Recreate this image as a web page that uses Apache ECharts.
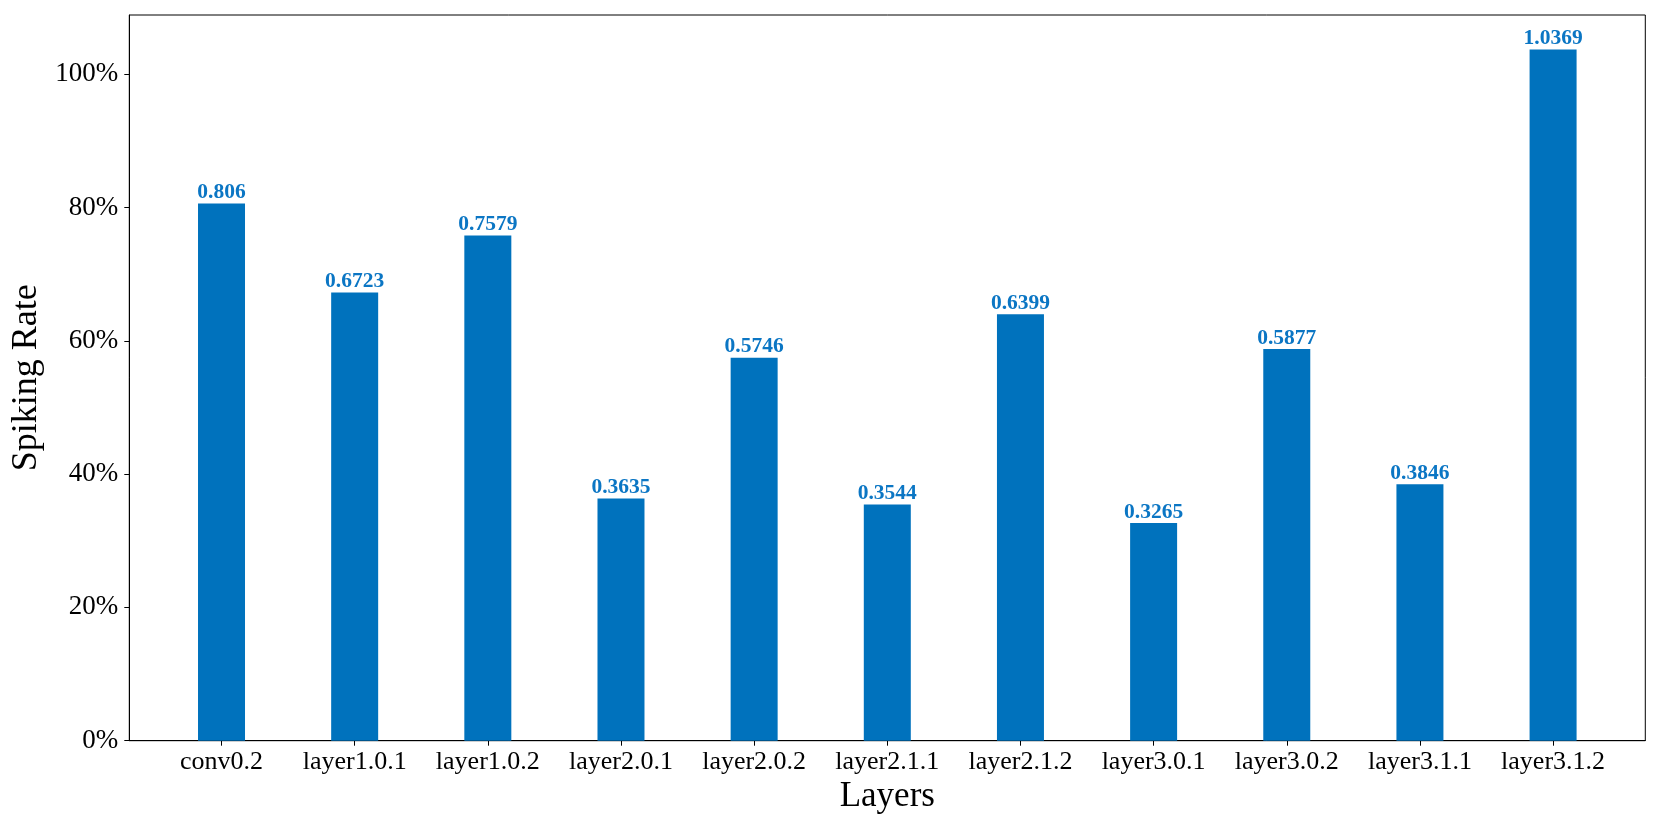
<!DOCTYPE html>
<html>
<head>
<meta charset="utf-8">
<script src="https://cdn.jsdelivr.net/npm/echarts@6/dist/echarts.min.js"></script>
<style>
html,body{margin:0;padding:0;background:#fff;}
#c{width:1661px;height:830px;}
</style>
</head>
<body>
<div id="c"></div>
<script>
var categories = ['conv0.2','layer1.0.1','layer1.0.2','layer2.0.1','layer2.0.2','layer2.1.1','layer2.1.2','layer3.0.1','layer3.0.2','layer3.1.1','layer3.1.2'];
var values = [0.806, 0.6723, 0.7579, 0.3635, 0.5746, 0.3544, 0.6399, 0.3265, 0.5877, 0.3846, 1.0369];
var yTicks = [0, 0.2, 0.4, 0.6, 0.8, 1.0];
var xTicks = categories.map(function(_, i){ return i; });

var FONT = '"Liberation Serif", "Times New Roman", serif';
var chart = echarts.init(document.getElementById('c'), null, {renderer: 'canvas'});
var barData = values.map(function(v, i){ return [i, v]; });

chart.setOption({
  animation: false,
  backgroundColor: '#ffffff',
  grid: {
    left: 129.3, top: 15, right: 15.7, bottom: 89.3,
    show: true, borderColor: '#000', borderWidth: 1, backgroundColor: 'transparent'
  },
  xAxis: {
    type: 'value',
    min: -0.6925, max: 10.6925,
    name: 'Layers', nameLocation: 'middle', nameGap: 33,
    nameTextStyle: {fontFamily: FONT, fontSize: 35, color: '#000'},
    axisLine: {show: true, onZero: false, lineStyle: {color: '#000', width: 1}},
    axisTick: {show: true, length: 5, customValues: xTicks, lineStyle: {color: '#000'}},
    axisLabel: {
      customValues: xTicks, margin: 8,
      fontFamily: FONT, fontSize: 26, color: '#000',
      formatter: function(v){ return categories[Math.round(v)]; }
    },
    splitLine: {show: false}
  },
  yAxis: {
    type: 'value',
    min: 0, max: 1.08875,
    name: 'Spiking Rate', nameLocation: 'middle', nameGap: 82,
    nameTextStyle: {fontFamily: FONT, fontSize: 36, color: '#000'},
    axisLine: {show: true, onZero: false, lineStyle: {color: '#000', width: 1}},
    axisTick: {show: true, length: 5, customValues: yTicks, lineStyle: {color: '#000'}},
    axisLabel: {
      customValues: yTicks, margin: 11,
      fontFamily: FONT, fontSize: 27, color: '#000',
      formatter: function(v){ return Math.round(v * 100) + '%'; }
    },
    splitLine: {show: false}
  },
  series: [{
    type: 'bar',
    data: barData,
    barWidth: 47,
    itemStyle: {color: '#0072BD'},
    label: {
      show: true, position: 'top', distance: 0,
      fontFamily: FONT, fontSize: 21.5, fontWeight: 'bold', color: '#0B76C4',
      formatter: function(p){ return String(values[p.dataIndex]); }
    }
  }]
});
</script>
</body>
</html>
